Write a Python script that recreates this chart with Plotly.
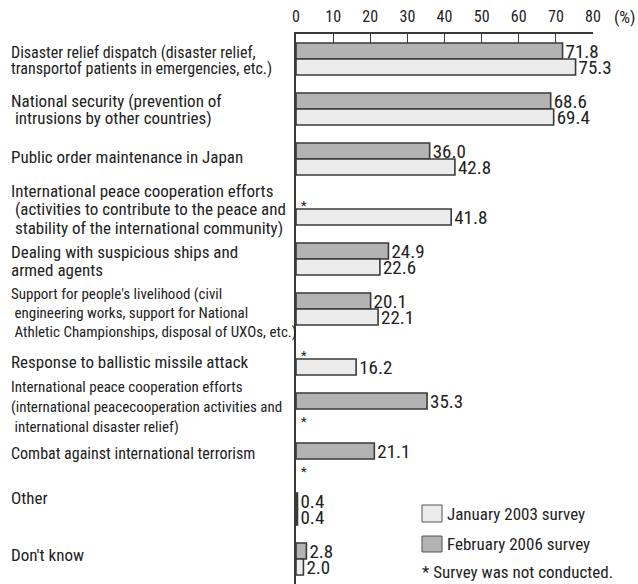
import plotly.graph_objects as go

categories = [
    ["Disaster relief dispatch (disaster relief,", "transportof patients in emergencies, etc.)"],
    ["National security (prevention of", "\u00a0intrusions by other countries)"],
    ["Public order maintenance in Japan"],
    ["International peace cooperation efforts", "\u00a0(activities to contribute to the peace and",
     "\u00a0stability of the international community)"],
    ["Dealing with suspicious ships and", "armed agents"],
    ["Support for people's livelihood (civil", "\u00a0engineering works, support for National",
     "\u00a0Athletic Championships, disposal of UXOs, etc.)"],
    ["Response to ballistic missile attack"],
    ["International peace cooperation efforts", "(international peacecooperation activities and",
     "\u00a0international disaster relief)"],
    ["Combat against international terrorism"],
    ["Other"],
    ["Don't know"],
]

survey_2006 = [71.8, 68.6, 36.0, None, 24.9, 20.1, None, 35.3, 21.1, 0.4, 2.8]
survey_2003 = [75.3, 69.4, 42.8, 41.8, 22.6, 22.1, 16.2, None, None, 0.4, 2.0]

x_ticks = [0, 10, 20, 30, 40, 50, 60, 70, 80]

# label placement and sizing per category (pixel nudges relative to each centre)
label_shift = [-1, 0, 2, 0, -2, -4, -3, 2, 6, 11, 4]
line_step = [16, 17, 0, 18.5, 18, 19, 0, 20, 0, 0, 0]
label_size = [16, 17, 17, 17, 17, 15, 17, 15, 16, 17, 17]

FONT = "Roboto Condensed, Arial Narrow, sans-serif"
DARK = "#b3b3b3"
LIGHT = "#ececec"
EDGE = "#3a3a3a"

idx = list(range(len(categories)))


def fmt(vals):
    return ["" if v is None else f"{v:.1f}" for v in vals]


def bar_trace(vals, name, fill):
    return go.Bar(
        y=idx, x=[0 if v is None else v for v in vals], orientation="h", name=name,
        marker=dict(color=[fill if v is not None else "rgba(0,0,0,0)" for v in vals],
                    line=dict(color=[EDGE if v is not None else "rgba(0,0,0,0)" for v in vals], width=1.6)),
        text=fmt(vals), textposition="outside", constraintext="none", cliponaxis=False,
        textfont=dict(family=FONT, size=19, color="#222"),
    )


fig = go.Figure()
fig.add_trace(bar_trace(survey_2006, "February 2006 survey", DARK))
fig.add_trace(bar_trace(survey_2003, "January 2003 survey", LIGHT))

annotations = []
# category labels on the left, one annotation per text line
for i, lines in enumerate(categories):
    n = len(lines)
    for k, line in enumerate(lines):
        annotations.append(dict(
            text=line, xref="paper", yref="y", x=-0.966, y=i,
            yshift=label_shift[i] - (k - (n - 1) / 2) * line_step[i],
            xanchor="left", yanchor="middle", align="left", showarrow=False,
            font=dict(family=FONT, size=label_size[i], color="#222"),
        ))
# asterisks where a survey was not conducted
for i, (a, b) in enumerate(zip(survey_2006, survey_2003)):
    if a is None:
        annotations.append(dict(text="*", xref="x", yref="y", x=0, y=i - 0.16, xshift=8, yshift=-4,
                                showarrow=False, font=dict(family=FONT, size=13, color="#222")))
    if b is None:
        annotations.append(dict(text="*", xref="x", yref="y", x=0, y=i + 0.16, xshift=8, yshift=-4,
                                showarrow=False, font=dict(family=FONT, size=13, color="#222")))
# unit label
annotations.append(dict(text="(%)", xref="paper", yref="paper", x=1.0, y=1.0, xshift=19, yshift=17,
                        xanchor="left", yanchor="middle", showarrow=False,
                        font=dict(family=FONT, size=17, color="#222")))

# legend drawn beside the lower bars
px_w, px_h = 297, 550


def px_x(p):
    return (p - 296) / px_w


def px_y(p):
    return 1 - (p - 34) / px_h


shapes = []
for (y0, y1, col, label) in [(505, 522, LIGHT, "January 2003 survey"),
                             (536, 552, DARK, "February 2006 survey")]:
    shapes.append(dict(type="rect", xref="paper", yref="paper",
                       x0=px_x(422), x1=px_x(442), y0=px_y(y1), y1=px_y(y0),
                       fillcolor=col, line=dict(color="#555", width=1)))
    annotations.append(dict(text=label, xref="paper", yref="paper", x=px_x(445), y=px_y((y0 + y1) / 2),
                            xanchor="left", yanchor="middle", showarrow=False,
                            font=dict(family=FONT, size=17, color="#222")))
annotations.append(dict(text="* Survey was not conducted.", xref="paper", yref="paper",
                        x=px_x(420), y=px_y(572), xanchor="left", yanchor="middle", showarrow=False,
                        font=dict(family=FONT, size=17, color="#222")))

fig.update_layout(
    width=638, height=584,
    margin=dict(l=296, r=45, t=34, b=0),
    paper_bgcolor="white", plot_bgcolor="white",
    barmode="group", bargap=0.36, bargroupgap=0,
    showlegend=False,
    annotations=annotations, shapes=shapes,
    font=dict(family=FONT, color="#222"),
)
fig.update_xaxes(
    side="top", range=[0, 80], tickvals=x_ticks, ticks="inside", ticklen=9,
    tickcolor=EDGE, tickwidth=1.2, showline=True, linecolor=EDGE, linewidth=1.5,
    showgrid=False, zeroline=False, tickfont=dict(family=FONT, size=16, color="#222"),
    ticklabelstandoff=4,
)
fig.update_yaxes(
    range=[10.5, -0.5], showticklabels=False, ticks="", showline=True, linecolor=EDGE,
    linewidth=1.6, showgrid=False, zeroline=False,
)

fig.write_html("out.html")
